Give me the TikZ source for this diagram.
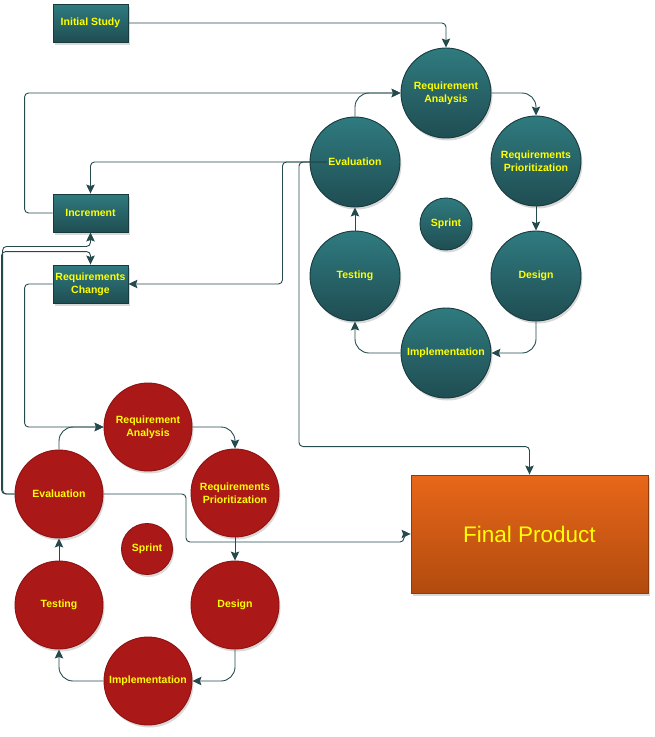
\documentclass[tikz,border=0pt]{standalone}
\usepackage{fontspec}
\setmainfont{Liberation Sans}
\usepackage{tikz}
\usepackage{xcolor}
\usetikzlibrary{shadows, arrows.meta}

\definecolor{tealtop}{HTML}{2F7B7F}
\definecolor{tealbot}{HTML}{1F4D52}
\definecolor{tealline}{HTML}{173A3E}
\definecolor{redfill}{HTML}{AB1818}
\definecolor{redline}{HTML}{8E1212}
\definecolor{orangetop}{HTML}{E8671A}
\definecolor{orangebot}{HTML}{B24B0E}
\definecolor{wire}{HTML}{244A4E}
\definecolor{label}{HTML}{FFFF00}

\begin{document}
\begin{tikzpicture}[>={Stealth[length=9pt, width=8.5pt, inset=1.5pt]}, x=1pt, y=-1pt, line width=0.9pt,
    shade/.style={drop shadow={shadow xshift=1.5pt, shadow yshift=-2.5pt, opacity=0.3}},
    box/.style={shade, draw=tealline, top color=tealtop, bottom color=tealbot, minimum width=75pt, minimum height=38pt, inner sep=1pt, align=center, text=label, font=\fontsize{10.5}{13}\selectfont\bfseries},
    tealdisc/.style={shade, circle, draw=tealline, top color=tealtop, bottom color=tealbot, minimum size=90pt, inner sep=0pt, align=center, text=label, font=\fontsize{10.5}{13}\selectfont\bfseries},
    reddisc/.style={shade, circle, draw=redline, fill=redfill, minimum size=88pt, inner sep=0pt, align=center, text=label, font=\fontsize{10.5}{13}\selectfont\bfseries},
    link/.style={draw=wire, ->, rounded corners=4pt},
    turn/.style={draw=wire, ->, rounded corners=14pt}]
        \useasboundingbox (0,0) rectangle (655,737);
        % boxes on the left
		\node[box] (1) at (90.5, 23) {Initial Study};
		\node[box] (2) at (90.5, 213) {Increment};
		\node[box] (3) at (90.5, 284) {Requirements\\Change};
        % first sprint
		\node[tealdisc] (4) at (446, 93) {Requirement\\Analysis};
		\node[tealdisc] (5) at (536, 161) {Requirements\\Prioritization};
		\node[tealdisc] (6) at (536, 276) {Design};
		\node[tealdisc] (7) at (446, 353) {Implementation};
		\node[tealdisc] (8) at (355, 276) {Testing};
		\node[tealdisc] (9) at (355, 162) {Evaluation};
		\node[tealdisc, minimum size=52pt] (10) at (446, 224) {Sprint};
        % second sprint
		\node[reddisc] (11) at (148, 427) {Requirement\\Analysis};
		\node[reddisc] (12) at (235, 493) {Requirements\\Prioritization};
		\node[reddisc] (13) at (235, 605) {Design};
		\node[reddisc] (14) at (148, 681) {Implementation};
		\node[reddisc] (15) at (59, 605) {Testing};
		\node[reddisc] (16) at (59, 494) {Evaluation};
		\node[reddisc, minimum size=51pt] (17) at (147, 549) {Sprint};
        % result
		\node[shade, draw=orangebot!80!black, top color=orangetop, bottom color=orangebot, minimum width=237pt, minimum height=118pt, text=label, font=\fontsize{22.5}{26}\selectfont] (18) at (529.5, 534) {Final Product};
        % cycles
		\draw[turn] (4.east) -| (5.north);
		\draw[link] (5.south) to (6.north);
		\draw[turn] (6.south) |- (7.east);
		\draw[turn] (7.west) -| (8.south);
		\draw[link] (8.north) to (9.south);
		\draw[turn] (9.north) |- (4.west);
		\draw[turn] (11.east) -| (12.north);
		\draw[link] (12.south) to (13.north);
		\draw[turn] (13.south) |- (14.east);
		\draw[turn] (14.west) -| (15.south);
		\draw[link] (15.north) to (16.south);
		\draw[turn] (16.north) |- (11.west);
        % routing
		\draw[link] (1.east) -| (4.north);
		\draw[link] (2.west) -- ++(-28,0) |- (4.west);
		\draw[link] ([xshift=-28pt]9.center) -| (2.north);
		\draw[link] ([xshift=-28pt]9.center) -| ([xshift=154pt]3.east) -- (3.east);
		\draw[link] ([xshift=-28pt]9.center) -- (299,162) |- ([yshift=28pt]18.north) -- (18.north);
		\draw[link] (16.west) -- ++(-12,0) |- ([yshift=-14pt]2.south) -- (2.south);
		\draw[link] (16.west) -- ++(-13,0) |- ([yshift=13pt]3.north) -- (3.north);
		\draw[link] (3.west) -- ++(-28,0) |- (11.west);
		\draw[link] (16.east) -| (186,542) -| (404,534) -- (18.west);
    \end{tikzpicture}
\end{document}
